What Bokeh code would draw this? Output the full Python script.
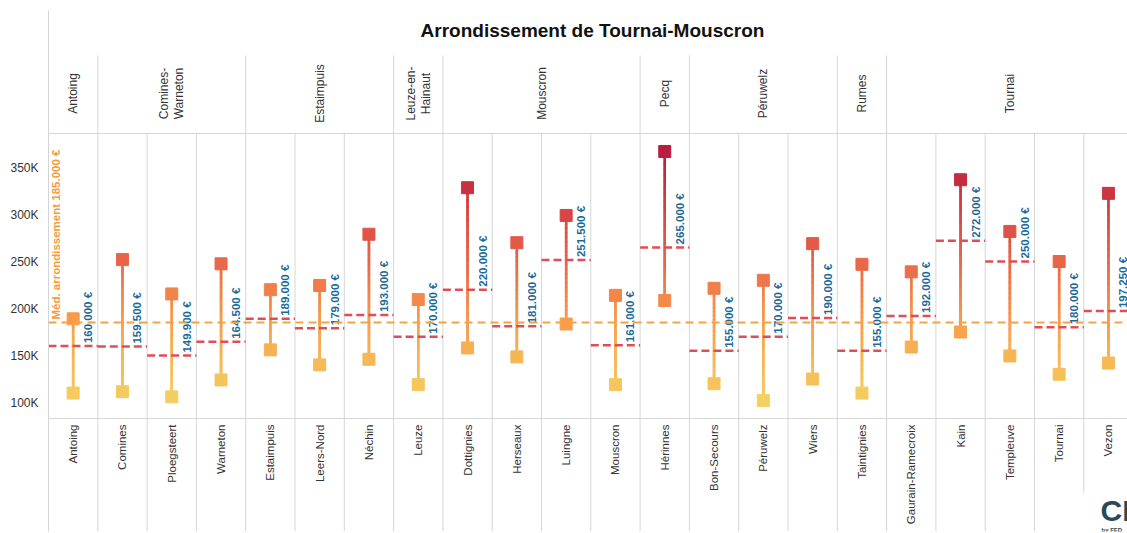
import math
from bokeh.plotting import figure
from bokeh.models import Range1d, Span, FixedTicker, ColumnDataSource
from bokeh.core.properties import value
from bokeh.embed import file_html
from bokeh.resources import INLINE

# ---------------- data ----------------
communes = ["Antoing", "Comines", "Ploegsteert", "Warneton", "Estaimpuis", "Leers-Nord",
            "Néchin", "Leuze", "Dottignies", "Herseaux", "Luingne", "Mouscron", "Hérinnes",
            "Bon-Secours", "Péruwelz", "Wiers", "Taintignies", "Gaurain-Ramecroix", "Kain",
            "Templeuve", "Tournai", "Vezon"]
max_price = [189000, 252000, 215500, 247500, 220000, 224500, 279000, 209500, 328500, 270000,
             299000, 214000, 367000, 221500, 230000, 269000, 247000, 239000, 337000, 282000,
             250000, 322500]
min_price = [110000, 111500, 106000, 124000, 156000, 140000, 146000, 119000, 158000, 148500,
             183500, 119000, 208500, 120000, 102000, 125000, 110000, 159000, 175000, 149500,
             130000, 142000]
median_price = [160000, 159500, 149900, 164500, 189000, 179000, 193000, 170000, 220000, 181000,
                251500, 161000, 265000, 155000, 170000, 190000, 155000, 192000, 272000, 250000,
                180000, 197250]
groups = ["Antoing", "Comines-\nWarneton", "Estaimpuis", "Leuze-en-\nHainaut", "Mouscron",
          "Pecq", "Péruwelz", "Rumes", "Tournai"]
group_sizes = [1, 3, 3, 1, 4, 1, 3, 1, 5]
arr_median = 185000
y_ticks = [100000, 150000, 200000, 250000, 300000, 350000]
y_tick_labels = ["100K", "150K", "200K", "250K", "300K", "350K"]
title_text = "Arrondissement de Tournai-Mouscron"

# ---------------- geometry helpers ----------------
W, H = 1127, 533
LEFT = 48
TOP, BOTTOM = 10, 531
COL_PX = 49.3
PX_PER_EUR = 0.00094


def py(page_y):
    """data value for a page pixel y"""
    return 100000 + (402 - page_y) / PX_PER_EUR


def dx(px):
    return px / COL_PX


def fmt(v):
    return f"{v:,}".replace(",", ".") + " €"


stops = [(100000, "#F4D062"), (150000, "#F6B553"), (190000, "#F79A4A"), (220000, "#F0804A"),
         (250000, "#E8654A"), (280000, "#DF5347"), (330000, "#C93040"), (370000, "#B91B3E")]


def h2r(h):
    return tuple(int(h[i:i + 2], 16) for i in (1, 3, 5))


def cmap(v):
    if v <= stops[0][0]:
        return stops[0][1]
    for (v0, c0), (v1, c1) in zip(stops[:-1], stops[1:]):
        if v <= v1:
            t = (v - v0) / (v1 - v0)
            a, b = h2r(c0), h2r(c1)
            return "#%02x%02x%02x" % tuple(round(a[k] + (b[k] - a[k]) * t) for k in range(3))
    return stops[-1][1]


n = len(communes)
p = figure(width=W, height=H, output_backend="svg", toolbar_location=None,
           x_range=Range1d(0, (W - LEFT) / COL_PX), y_range=Range1d(py(BOTTOM), py(TOP)),
           min_border_left=LEFT, min_border_right=0, min_border_top=TOP,
           min_border_bottom=H - BOTTOM)
p.xaxis.visible = False
p.xgrid.visible = False
p.ygrid.visible = False
p.outline_line_color = None
p.yaxis.ticker = FixedTicker(ticks=y_ticks)
p.yaxis.major_label_overrides = {t: l for t, l in zip(y_ticks, y_tick_labels)}
p.yaxis.major_tick_line_color = None
p.yaxis.minor_tick_line_color = None
p.yaxis.axis_line_color = "#D4D4D4"
p.yaxis.major_label_text_font = "Liberation Sans"
p.yaxis.major_label_text_font_size = "12px"
p.yaxis.major_label_text_color = "#333333"
p.yaxis.major_label_standoff = 4

grey = "#D6D6D6"
# horizontal separators
for yy in (133, 418):
    p.add_layout(Span(location=py(yy), dimension="width", line_color=grey, line_width=1))

# column separators (plot + footer rows)
sx = list(range(1, n))
sy0 = [py(133)] * len(sx)
sy1 = [py(BOTTOM) if i < n - 1 else py(492) for i in sx]
p.segment(x0=sx, y0=sy0, x1=sx, y1=sy1, line_color=grey, line_width=1)

# group separators (header row)
bounds = []
acc = 0
centers = []
for s in group_sizes:
    centers.append(acc + s / 2)
    acc += s
    bounds.append(acc)
gb = bounds[:-1]
p.segment(x0=gb, y0=[py(55)] * len(gb), x1=gb, y1=[py(133)] * len(gb), line_color=grey, line_width=1)

# title
p.text(x=[dx(592 - LEFT)], y=[py(30)], text=[title_text], text_align="center",
       text_baseline="middle", text_font=value("Liberation Sans"), text_font_style="bold",
       text_font_size="19px", text_color="#111111")

# group header labels
p.text(x=centers, y=[py(93)] * len(centers), text=groups, angle=math.pi / 2,
       text_align="center", text_baseline="middle", text_font=value("Liberation Sans"),
       text_font_size="12px", text_color="#333333", text_line_height=1.1)

# footer labels
xc = [i + 0.5 for i in range(n)]
p.text(x=xc, y=[py(424)] * n, text=communes, angle=math.pi / 2, text_align="right",
       text_baseline="middle", text_font=value("Liberation Sans"), text_font_size="11.5px",
       text_color="#333333")

# arrondissement median
p.add_layout(Span(location=arr_median, dimension="width", line_color="#F7A246",
                  line_width=2, line_dash="8 5"))
p.text(x=[dx(7)], y=[arr_median + 3 / PX_PER_EUR],
       text=["Méd. arrondissement " + fmt(arr_median)], angle=math.pi / 2,
       text_align="left", text_baseline="middle", text_font=value("Liberation Sans"),
       text_font_style="bold", text_font_size="11.5px", text_color="#F39A3C")

# gradient stems (base line + overlapping colour pieces)
p.segment(x0=xc, y0=min_price, x1=xc, y1=max_price,
          line_color=[cmap((a + b) / 2) for a, b in zip(min_price, max_price)], line_width=2.5)
NSEG = 24
ovl = 1.0 / PX_PER_EUR
gx, gy0, gy1, gc = [], [], [], []
for i in range(n):
    lo, hi = min_price[i], max_price[i]
    for k in range(NSEG):
        a = lo + (hi - lo) * k / NSEG
        b = lo + (hi - lo) * (k + 1) / NSEG
        gx.append(i + 0.5)
        gy0.append(a)
        gy1.append(min(hi, b + ovl))
        gc.append(cmap((a + b) / 2))
p.segment(x0=gx, y0=gy0, x1=gx, y1=gy1, line_color=gc, line_width=2.5, line_cap="butt")

# commune medians
p.segment(x0=[i for i in range(n)], y0=median_price, x1=[i + 1 for i in range(n)],
          y1=median_price, line_color="#DF4E57", line_width=2.5, line_dash="8 4")

# squares
sq = ColumnDataSource(dict(x=xc + xc, y=max_price + min_price,
                           c=[cmap(v) for v in max_price + min_price]))
p.scatter(x="x", y="y", source=sq, marker="square", size=12, fill_color="c", line_color="c")

# median labels
p.text(x=[i + 0.5 + dx(15) for i in range(n)], y=[m + 3 / PX_PER_EUR for m in median_price],
       text=[fmt(m) for m in median_price], angle=math.pi / 2, text_align="left",
       text_baseline="middle", text_font=value("Liberation Sans"), text_font_style="bold",
       text_font_size="11.5px", text_color="#1B6A97")

# logo (cut off at the right edge, as in the reference)
p.text(x=[dx(1100 - LEFT)], y=[py(510)], text=["CI"], text_align="left", text_baseline="middle",
       text_font=value("Liberation Sans"), text_font_style="bold", text_font_size="30px",
       text_color="#2C4A56")
p.text(x=[dx(1101 - LEFT)], y=[py(529)], text=["by FED"], text_align="left",
       text_baseline="middle", text_font=value("Liberation Sans"), text_font_style="bold",
       text_font_size="6px", text_color="#2C4A56")

open("out.html", "w").write(file_html(p, INLINE))
